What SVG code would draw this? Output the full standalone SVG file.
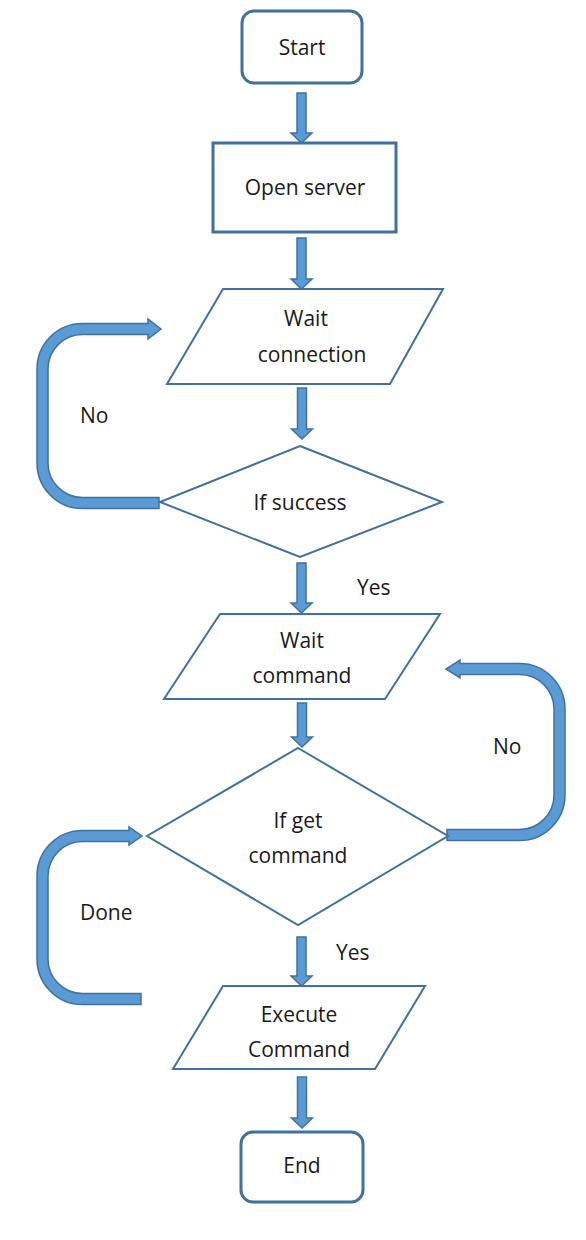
<svg xmlns="http://www.w3.org/2000/svg" width="586" height="1240" viewBox="0 0 586 1240">
<style>
.node{fill:#fff;stroke:#41719C}
.thick{stroke-width:3}
.thin{stroke-width:2}
.arr{fill:#5B9BD5;stroke:#41719C;stroke-width:1.5;stroke-linejoin:miter}
text{font-family:"Open Sans","Liberation Sans",sans-serif;font-size:21px;fill:#1a1a1a;text-anchor:middle}
.lbl{text-anchor:start}
</style>
<rect width="586" height="1240" fill="#fff"/>
<g id="connectors">
<polygon class="arr" points="297,93 306,93 306,133 312,133 301.5,143 291,133 297,133"/>
<polygon class="arr" points="297,238 306,238 306,279 312,279 301.5,289 291,279 297,279"/>
<polygon class="arr" points="297.5,388 306.5,388 306.5,429 312.5,429 302,439 291.5,429 297.5,429"/>
<polygon class="arr" points="297,563 306,563 306,603 312,603 301.5,613 291,603 297,603"/>
<polygon class="arr" points="297.5,703 306.5,703 306.5,737 312.5,737 302,747 291.5,737 297.5,737"/>
<polygon class="arr" points="297,937 306,937 306,976 312,976 301.5,986 291,976 297,976"/>
<polygon class="arr" points="297.5,1077 306.5,1077 306.5,1118 312.5,1118 302,1128 291.5,1118 297.5,1118"/>
<path class="arr" d="M159 497.5 L82.5 497.5 A34.5 34.5 0 0 1 48 463 L48 369 A34.5 34.5 0 0 1 82.5 334.5 L148 334.5 L148 339 L161 329 L148 319 L148 323.5 L82.5 323.5 A45.5 45.5 0 0 0 37 369 L37 463 A45.5 45.5 0 0 0 82.5 508.5 L159 508.5 Z"/>
<path class="arr" d="M447 829.5 L519.5 829.5 A34.5 34.5 0 0 0 554 795 L554 709 A34.5 34.5 0 0 0 519.5 674.5 L460 674.5 L460 678 L446 669 L460 660 L460 663.5 L519.5 663.5 A45.5 45.5 0 0 1 565 709 L565 795 A45.5 45.5 0 0 1 519.5 840.5 L447 840.5 Z"/>
<path class="arr" d="M141 993.5 L82.5 993.5 A34.5 34.5 0 0 1 48 959 L48 876 A34.5 34.5 0 0 1 82.5 841.5 L129 841.5 L129 845 L142 836 L129 827 L129 830.5 L82.5 830.5 A45.5 45.5 0 0 0 37 876 L37 959 A45.5 45.5 0 0 0 82.5 1004.5 L141 1004.5 Z"/>
<text class="lbl" x="80" y="423">No</text>
<text class="lbl" x="493" y="754">No</text>
<text class="lbl" x="80" y="920">Done</text>
<text class="lbl" x="357" y="595">Yes</text>
<text class="lbl" x="336" y="960">Yes</text>
</g>
<g id="start">
<rect class="node thick" x="242" y="11" width="120" height="72" rx="12"/>
<text x="302" y="55">Start</text>
</g>
<g id="open-server">
<rect class="node thick" x="213" y="143" width="183" height="89"/>
<text x="305" y="195">Open server</text>
</g>
<g id="wait-connection">
<polygon class="node thin" points="223,289 443,289 390,384 167,384"/>
<text x="306" y="326">Wait</text>
<text x="312" y="362">connection</text>
</g>
<g id="if-success">
<polygon class="node thin" points="300,446 442,502 300,557 160,502"/>
<text x="300" y="510">If success</text>
</g>
<g id="wait-command">
<polygon class="node thin" points="220,614 440,614 385,699 164,699"/>
<text x="302" y="648">Wait</text>
<text x="302" y="683">command</text>
</g>
<g id="if-get-command">
<polygon class="node thin" points="298,748 448,836 298,925 147,836"/>
<text x="298" y="828">If get</text>
<text x="298" y="863">command</text>
</g>
<g id="execute-command">
<polygon class="node thin" points="223,986 425,986 375,1069 173,1069"/>
<text x="299" y="1022">Execute</text>
<text x="299" y="1057">Command</text>
</g>
<g id="end">
<rect class="node thick" x="241" y="1132" width="122" height="70" rx="12"/>
<text x="302" y="1173">End</text>
</g>
</svg>
